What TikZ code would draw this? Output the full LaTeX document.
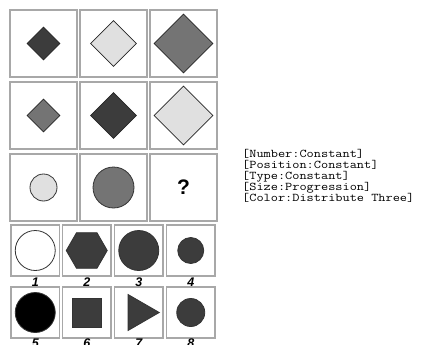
\documentclass[tikz,border=0pt]{standalone}
\usepackage{fontspec}
\newfontfamily\numfont{Liberation Sans}
\usetikzlibrary{shapes.geometric}
\definecolor{rpmDark}{HTML}{3c3c3c}
\definecolor{rpmGrey}{HTML}{747474}
\definecolor{rpmLight}{HTML}{e0e0e0}
\definecolor{rpmFrame}{HTML}{a8a8a8}
\newcommand{\ruletext}[1]{\scalebox{1.18}[1]{#1}}
\tikzset{
  panel/.style={draw=rpmFrame, line width=1.1pt, fill=white},
  dia/.style={diamond, draw=black!85, line width=0.8pt, inner sep=0pt},
  dot/.style={circle, draw=black!80, line width=0.8pt, inner sep=0pt},
  poly/.style={regular polygon, draw=black!80, line width=0.8pt, inner sep=0pt},
  num/.style={font=\numfont\bfseries\itshape\fontsize{12.5}{12.5}\selectfont, inner sep=0pt},
  rule/.style={font=\ttfamily\fontsize{11.8}{11.8}\selectfont, anchor=base west, inner sep=0pt},
}
\begin{document}
\begin{tikzpicture}[x=1pt,y=-1pt]
  \useasboundingbox (0,0) rectangle (423,345);
  % question grid
  \foreach \c/\x in {1/10,2/80,3/150}{
    \foreach \r/\y in {1/10,2/82,3/154}{
      \draw[panel] (\x,\y) rectangle ++(67,67);
    }
  }
  \node[dia,fill=rpmDark,minimum width=33pt,minimum height=33pt] (d11) at (43.5,43.5){};
  \node[dia,fill=rpmLight,minimum width=46pt,minimum height=46pt] (d12) at (113.5,43.5){};
  \node[dia,fill=rpmGrey,minimum width=59pt,minimum height=59pt] (d13) at (183.5,43.5){};
  \node[dia,fill=rpmGrey,minimum width=33pt,minimum height=33pt] (d21) at (43.5,115.5){};
  \node[dia,fill=rpmDark,minimum width=46pt,minimum height=46pt] (d22) at (113.5,115.5){};
  \node[dia,fill=rpmLight,minimum width=59pt,minimum height=59pt] (d23) at (183.5,115.5){};
  \node[dot,fill=rpmLight,minimum size=27pt] (c31) at (43.5,187.5){};
  \node[dot,fill=rpmGrey,minimum size=41pt] (c32) at (113.5,187.5){};
  \node[font=\numfont\bfseries\fontsize{21}{21}\selectfont] (qm) at (183.5,187){?};
  % answer panels
  \foreach \c/\x in {1/11,2/62.5,3/114.5,4/166.5}{
    \draw[panel] (\x,225) rectangle ++(48.5,51);
    \draw[panel] (\x,287) rectangle ++(48.5,51);
  }
  \node[dot,fill=white,minimum size=40pt] (a1) at (35.25,250.5){};
  \node[poly,regular polygon sides=6,fill=rpmDark,minimum size=41pt] (a2) at (86.75,250.5){};
  \node[dot,fill=rpmDark,minimum size=40pt] (a3) at (138.75,250.5){};
  \node[dot,fill=rpmDark,minimum size=26pt] (a4) at (190.75,250.5){};
  \node[dot,fill=black,minimum size=40pt] (a5) at (35.25,312.5){};
  \node[draw=black!80,line width=0.8pt,fill=rpmDark,minimum size=29pt,inner sep=0pt] (a6) at (86.75,312.5){};
  \node[poly,regular polygon sides=3,shape border rotate=-90,fill=rpmDark,minimum size=41.5pt] (a7) at (138.5,312.5){};
  \node[dot,fill=rpmDark,minimum size=28pt] (a8) at (190.75,312.5){};
  \foreach \n/\x/\y in {1/35.25/282,2/86.75/282,3/138.75/282,4/190.75/282,
                        5/35.25/343,6/86.75/343,7/138.75/343,8/190.75/343}{
    \node[num] (n\n) at (\x,\y){\n};
  }
  % rule list
  \node[rule] (r1) at (242,157){\ruletext{[Number:Constant]}};
  \node[rule] (r2) at (242,168){\ruletext{[Position:Constant]}};
  \node[rule] (r3) at (242,179){\ruletext{[Type:Constant]}};
  \node[rule] (r4) at (242,190){\ruletext{[Size:Progression]}};
  \node[rule] (r5) at (242,201){\ruletext{[Color:Distribute Three]}};
\end{tikzpicture}
\end{document}
